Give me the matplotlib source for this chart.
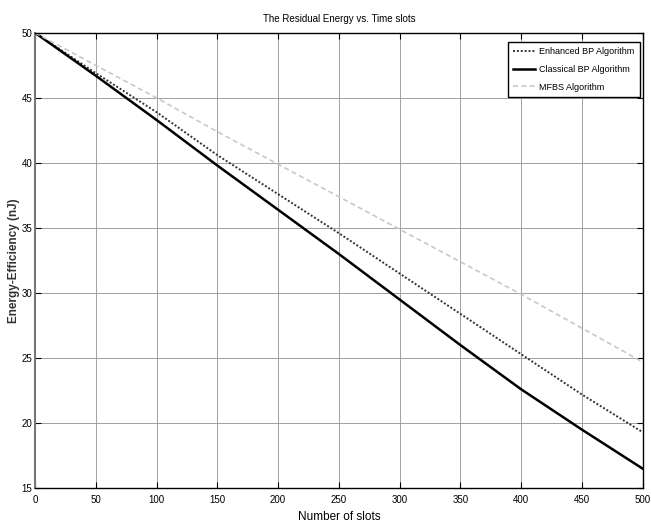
import matplotlib
matplotlib.use("Agg")
import matplotlib.pyplot as plt
from matplotlib import font_manager

slots = [0, 50, 100, 150, 200, 250, 300, 350, 400, 450, 500]
enhanced = [50, 46.9, 43.9, 40.6, 37.6, 34.6, 31.5, 28.4, 25.3, 22.2, 19.3]
classical = [50, 46.7, 43.3, 39.8, 36.4, 33.0, 29.5, 26.0, 22.6, 19.5, 16.5]
mfbs = [50, 47.5, 45.0, 42.4, 39.9, 37.4, 34.9, 32.4, 29.9, 27.3, 24.7]
xticks = [0, 50, 100, 150, 200, 250, 300, 350, 400, 450, 500]
yticks = [15, 20, 25, 30, 35, 40, 45, 50]

names = {f.name for f in font_manager.fontManager.ttflist}
narrow = 'Liberation Sans Narrow' if 'Liberation Sans Narrow' in names else 'Liberation Sans'
plt.rcParams['font.family'] = [narrow, 'DejaVu Sans']

fig = plt.figure(figsize=(6.51, 5.22), dpi=100)
ax = fig.add_axes([0.054, 0.065, 0.933, 0.872])

ax.plot(slots, enhanced, color='#333333', linestyle=(0, (1, 1)), linewidth=1.4, label='Enhanced BP Algorithm')
ax.plot(slots, classical, color='black', linestyle='-', linewidth=1.8, label='Classical BP Algorithm')
ax.plot(slots, mfbs, color='#c8c8c8', linestyle=(0, (3, 2)), linewidth=1.2, label='MFBS Algorithm')

ax.set_xlim(0, 500)
ax.set_ylim(15, 50)
ax.set_xticks(xticks)
ax.set_yticks(yticks)
ax.tick_params(direction='in', top=True, right=True, labelsize=7, length=4, width=0.8)
ax.tick_params(axis='y', pad=2)
ax.tick_params(axis='x', pad=5)
ax.grid(True, color='#a0a0a0', linewidth=0.7)
for s in ax.spines.values():
    s.set_linewidth(1.0)
    s.set_color('black')
ax.spines['left'].set_color('#777777')
ax.spines['left'].set_linewidth(1.5)

ax.set_title('The Residual Energy vs. Time slots', fontsize=7, pad=8)
ax.set_xlabel('Number of slots', fontsize=8.5, labelpad=4)
ax.set_ylabel('Energy-Efficiency (nJ)', fontsize=8.5, fontweight='bold', color='#333333',
              labelpad=1, family=['Liberation Sans', 'DejaVu Sans'])

leg = ax.legend(loc='upper right', fontsize=6.5, fancybox=False, framealpha=1,
                edgecolor='black', borderpad=0.6, handlelength=2.4, handletextpad=0.5,
                labelspacing=0.95, bbox_to_anchor=(1.003, 0.99))
leg.get_frame().set_linewidth(1.0)

fig.savefig('out.png', dpi=100)
